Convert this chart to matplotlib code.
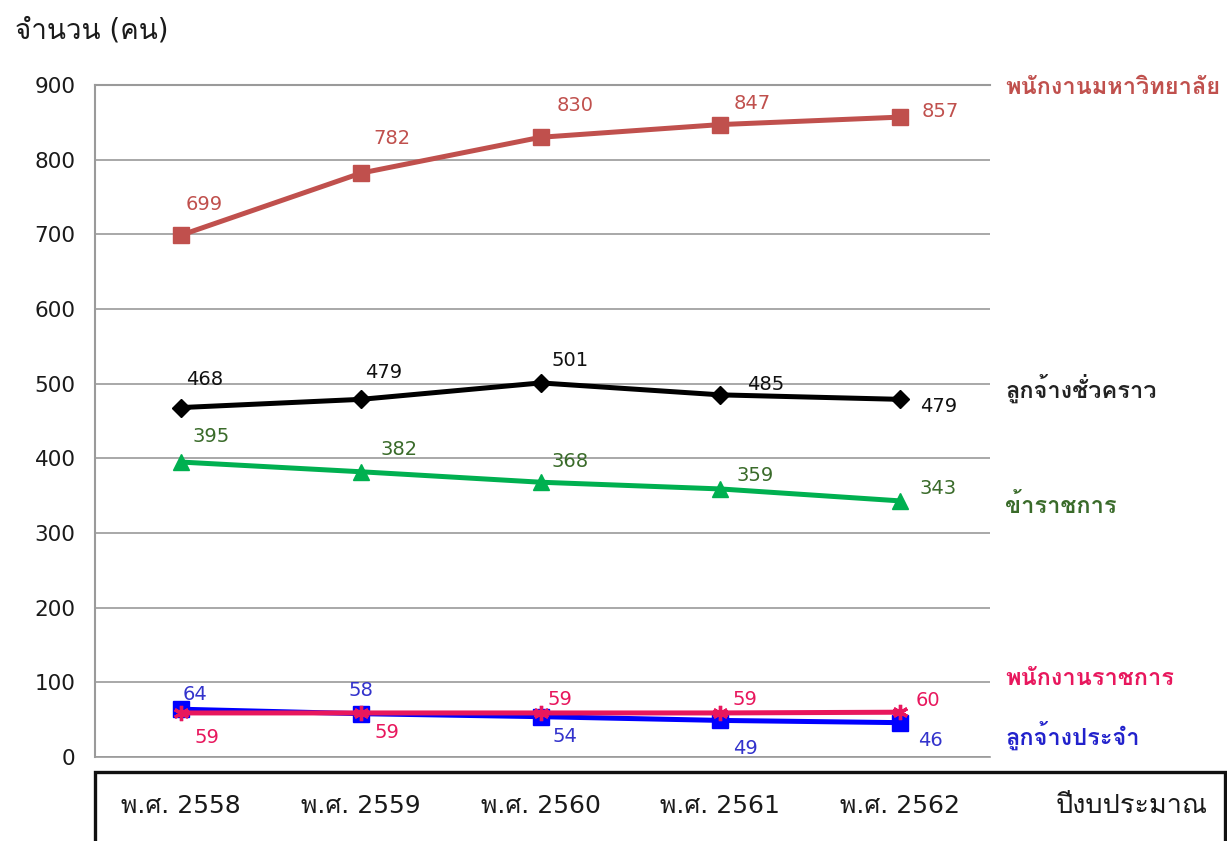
import matplotlib
matplotlib.use("Agg")
import matplotlib.pyplot as plt
from matplotlib.patches import Rectangle

plt.rcParams['font.family'] = ['DejaVu Sans', 'Loma']

years = ["พ.ศ. 2558", "พ.ศ. 2559", "พ.ศ. 2560", "พ.ศ. 2561", "พ.ศ. 2562"]
university_staff = [699, 782, 830, 847, 857]
temp_employees = [468, 479, 501, 485, 479]
civil_servants = [395, 382, 368, 359, 343]
gov_employees = [59, 59, 59, 59, 60]
perm_employees = [64, 58, 54, 49, 46]

series_names = ["พนักงานมหาวิทยาลัย", "ลูกจ้างชั่วคราว", "ข้าราชการ", "พนักงานราชการ", "ลูกจ้างประจำ"]
y_ticks = [0, 100, 200, 300, 400, 500, 600, 700, 800, 900]

fig = plt.figure(figsize=(12.27, 8.41), dpi=100)
ax = fig.add_axes([95 / 1227, 1 - 757 / 841, (990 - 95) / 1227, (757 - 85) / 841])

x = list(range(len(years)))

# label offsets in pixels (dx, dy) for each point
specs = [
    (university_staff, "#C0504D", "s", 11, "#C0504D",
     [(23, 31), (31, 35), (34, 32), (32, 21), (40, 6)]),
    (temp_employees, "#000000", "D", 9, "#111111",
     [(23, 28), (23, 27), (29, 22), (45, 10), (38, -7)]),
    (civil_servants, "#00B050", "^", 11, "#3A6B2A",
     [(30, 26), (38, 22), (29, 21), (35, 13), (38, 12)]),
    (perm_employees, "#0000FF", "s", 11, "#3333CC",
     [(14, 15), (0, 23), (24, -20), (25, -28), (30, -18)]),
    (gov_employees, "#E8175D", (6, 2, 0), 11, "#E8175D",
     [(26, -25), (26, -20), (19, 13), (25, 13), (28, 12)]),
]

for vals, col, mk, ms, tcol, offs in specs:
    ax.plot(x, vals, color=col, lw=3.6, marker=mk, ms=ms,
            mew=2.4 if isinstance(mk, tuple) else 1,
            zorder=3, solid_capstyle="round")
    for xi, v, (dx, dy) in zip(x, vals, offs):
        ax.annotate(str(v), (xi, v), xytext=(dx, dy), textcoords="offset pixels",
                    ha="center", va="center", fontsize=14, color=tcol, zorder=4)

ax.set_xlim(-0.48, 4.5)
ax.set_ylim(0, 900)
ax.set_yticks(y_ticks)
ax.set_yticklabels([str(t) for t in y_ticks], fontsize=15.5, color="#1a1a1a")
ax.tick_params(axis="y", length=0, pad=14)
ax.yaxis.grid(True, color="#9A9A9A", lw=1.2)
ax.set_axisbelow(True)
for side in ["left", "top"]:
    ax.spines[side].set_color("#9A9A9A")
    ax.spines[side].set_linewidth(1.5)
ax.spines["right"].set_visible(False)
ax.spines["bottom"].set_color("#9A9A9A")
ax.spines["bottom"].set_linewidth(1.2)

ax.set_xticks(x)
ax.set_xticklabels(years, fontsize=18, color="#1a1a1a")
ax.tick_params(axis="x", length=0, pad=35)
for lbl in ax.get_xticklabels():
    lbl.set_va("center")

# bottom box for category labels
fig.patches.append(Rectangle((95 / 1227, -0.02), (1225 - 95) / 1227, 1 - 772 / 841 + 0.02,
                             transform=fig.transFigure, fill=False, edgecolor="#111111", lw=2.4))
fig.text(1132 / 1227, 1 - 806 / 841, "ปีงบประมาณ", ha="center", va="center",
         fontsize=19.5, color="#1a1a1a")

# y-axis title
fig.text(15 / 1227, 1 - 30 / 841, "จำนวน (คน)", ha="left", va="center",
         fontsize=20, color="#1a1a1a")

# series name labels on the right
name_specs = [
    (series_names[0], 87, "#C0504D"),
    (series_names[1], 388, "#222222"),
    (series_names[2], 506, "#3A6B2A"),
    (series_names[3], 678, "#E8175D"),
    (series_names[4], 735, "#2222CC"),
]
for name, ypx, c in name_specs:
    fig.text(1005 / 1227, 1 - ypx / 841, name, ha="left", va="center",
             fontsize=17, color=c, fontweight="bold")

fig.savefig("out.png", dpi=100)
